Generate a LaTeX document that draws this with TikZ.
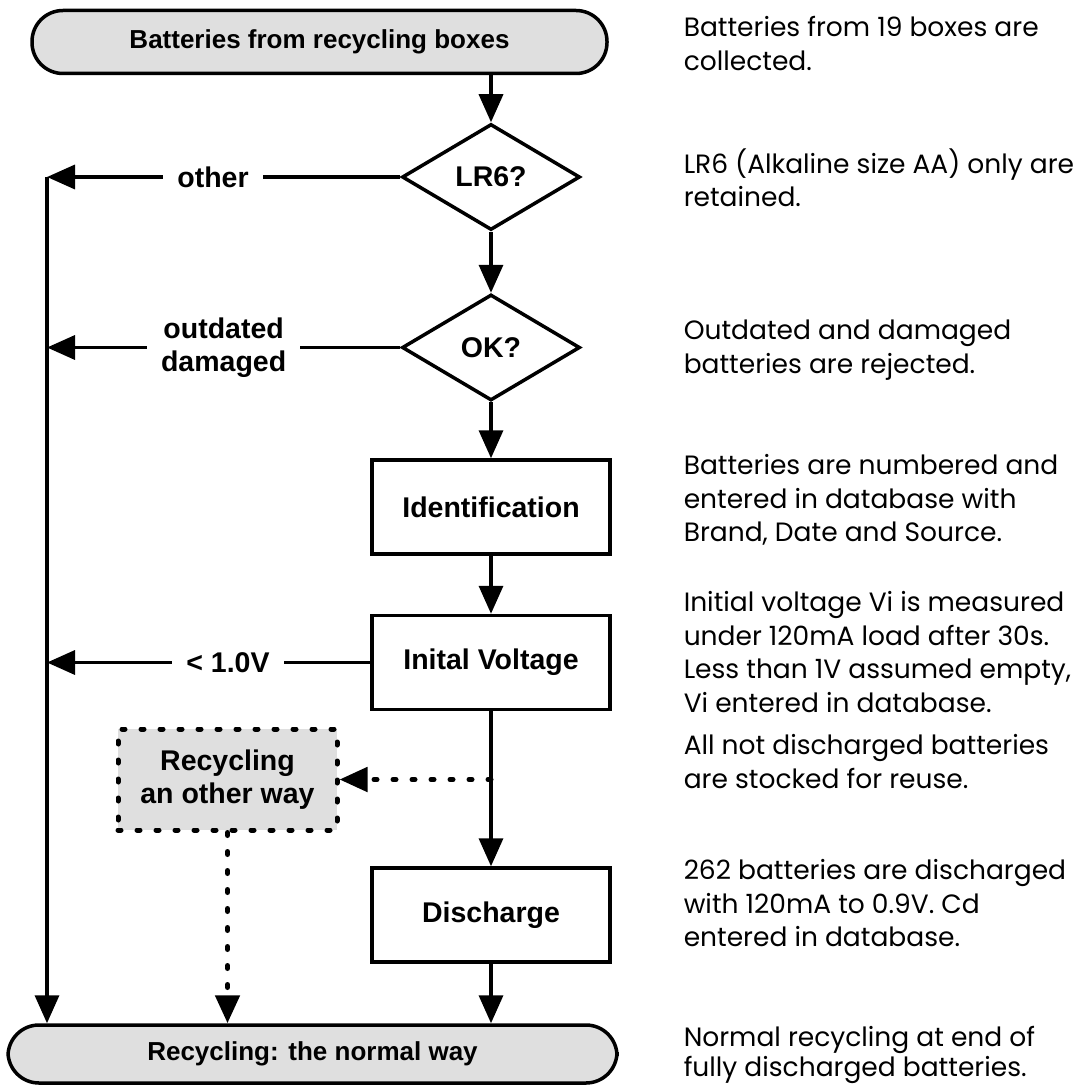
\documentclass[tikz,border=0pt]{standalone}
\usepackage{fontspec}
\setmainfont{Liberation Sans}
\newfontfamily\notefont{Poppins}
\usetikzlibrary{positioning,arrows.meta,shapes.geometric}

\begin{document}
\begin{tikzpicture}[
		x=1pt, y=-1pt,
		>={Triangle[length=28pt,width=24pt]},
		line width=3.5pt,
		every node/.style={
			align=center,
			font=\fontsize{28.5}{33}\selectfont\bfseries
		},
		terminal/.style={
			draw,
			fill=gray!25,
			rounded corners=31pt,
			minimum height=63pt,
			inner sep=0pt,
			font=\fontsize{26}{30}\selectfont\bfseries
		},
		decision/.style={
			draw,
			diamond,
			minimum width=178pt,
			minimum height=106pt,
			inner sep=0pt
		},
		process/.style={
			draw,
			minimum width=238pt,
			minimum height=94pt,
			inner sep=0pt
		},
		dotline/.style={
			line width=5pt,
			line cap=round,
			dash pattern=on 3pt off 16pt
		},
		aside/.style={
			process,
			dotline,
			fill=gray!25,
			minimum width=219pt,
			minimum height=101pt
		},
		tag/.style={
			fill=white,
			inner xsep=14pt,
			inner ysep=2pt
		},
		note/.style={
			anchor=north west,
			inner sep=0pt,
			align=left,
			font=\notefont\fontsize{26.5}{33.5}\selectfont
		}
		]
		
		\useasboundingbox (0,0) rectangle (1078,1086);
		
		%--------------------------------------------------
		% Nodes
		%--------------------------------------------------
		
		\node (start) [terminal, minimum width=575pt] at (319.5,42)
		{Batteries from recycling boxes};
		
		\node (lr6) [decision] at (491,177)
		{LR6?};
		
		\node (ok) [decision, below=61pt of lr6]
		{OK?};
		
		\node (ident) [process, below=56pt of ok]
		{Identification};
		
		\node (volt) [process, below=58pt of ident]
		{Inital Voltage};
		
		\node (disch) [process, below=155pt of volt]
		{Discharge};
		
		\node (other) [aside] at (227.5,779.5)
		{Recycling\\an other way};
		
		\node (end) [terminal, minimum width=609pt, minimum height=58pt] at (312.5,1054)
		{Recycling: the normal way};
		
		\coordinate (rail) at (47,0);
		
		%--------------------------------------------------
		% Notes
		%--------------------------------------------------
		
		\node (n1) [note] at (682,11.5)
		{\strut Batteries from 19 boxes are\\collected.};
		
		\node (n2) [note] at (682,146.5)
		{\strut LR6 (Alkaline size AA) only are\\retained.};
		
		\node (n3) [note] at (682,314.5)
		{\strut Outdated and damaged\\batteries are rejected.};
		
		\node (n4) [note] at (682,449.5)
		{\strut Batteries are numbered and\\entered in database with\\Brand, Date and Source.};
		
		\node (n5) [note] at (682,586.5)
		{\strut Initial voltage Vi is measured\\under 120mA load after 30s.\\Less than 1V assumed empty,\\Vi entered in database.};
		
		\node (n6) [note] at (682,729.5)
		{\strut All not discharged batteries\\are stocked for reuse.};
		
		\node (n7) [note] at (682,854.5)
		{\strut 262 batteries are discharged\\with 120mA to 0.9V. Cd\\entered in database.};
		
		\node (n8) [note] at (682,1021)
		{\strut Normal recycling at end of\\[-3pt]fully discharged batteries.};
		
		%--------------------------------------------------
		% Connections
		%--------------------------------------------------
		
		\draw[->] (start.south -| lr6.north) -- (lr6.north);
		
		\draw[->] (lr6.south) -- (ok.north);
		
		\draw[->] (ok.south) -- (ident.north);
		
		\draw[->] (ident.south) -- (volt.north);
		
		\draw[->] (volt.south) -- (disch.north);
		
		\draw[->] (disch.south) -- (disch.south |- end.north);
		
		\draw[->] (lr6.west) -- node[tag, pos=0.53] {other} (lr6.west -| rail);
		
		\draw[->] (ok.west) -- node[tag, pos=0.5] {outdated\\damaged} (ok.west -| rail);
		
		\draw[->] (volt.west) -- node[tag, pos=0.44] {< 1.0V} (volt.west -| rail);
		
		\draw[->] (lr6.west -| rail) -- (rail |- end.north);
		
		\draw[->, dotline] (volt.south |- other.east) -- (other.east);
		
		\draw[->, dotline] (other.south) -- (other.south |- end.north);
		
	\end{tikzpicture}
\end{document}
